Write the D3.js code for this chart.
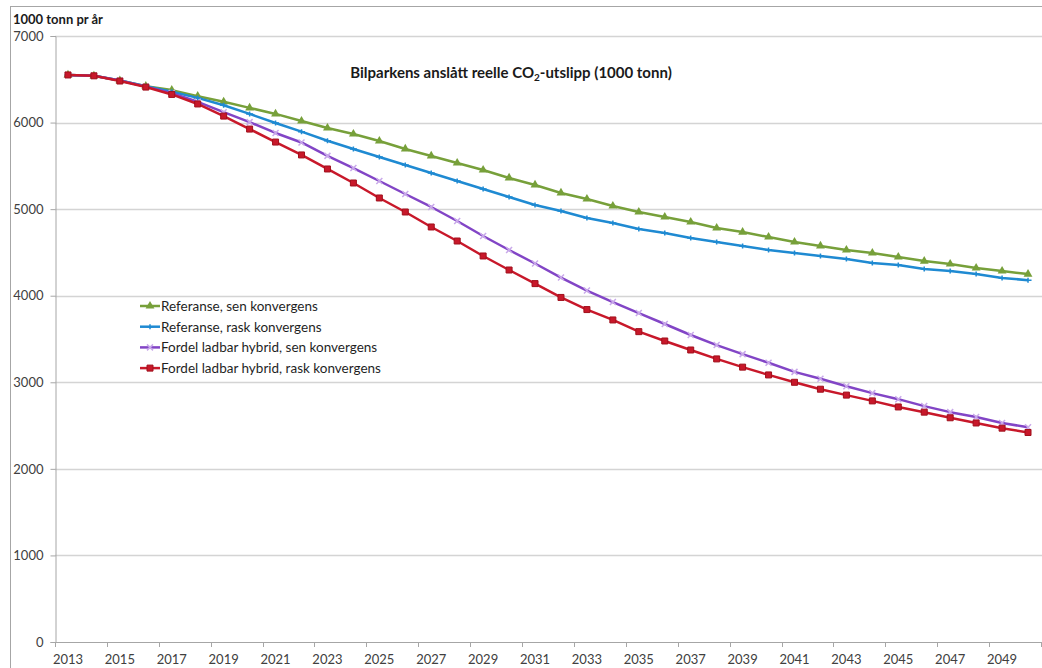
<!DOCTYPE html>
<html>
<head>
<meta charset="utf-8">
<script src="https://cdn.jsdelivr.net/npm/d3@7"></script>
<style>
  body{margin:0;background:#fff;}
  svg{display:block;font-family:Lato,"Liberation Sans",sans-serif;}
</style>
</head>
<body>
<svg id="chart" width="1042" height="668"></svg>
<script>
const years=d3.range(2013,2051);
const yTicks=[0,1000,2000,3000,4000,5000,6000,7000];

const refSen=[6550,6540,6485,6420,6375,6305,6240,6170,6100,6018,
  5937,5868,5787,5695,5614,5533,5452,5360,5279,5187,
  5117,5036,4967,4909,4851,4782,4735,4678,4620,4575,
  4528,4493,4447,4400,4366,4320,4285,4250];
const refRask=[6550,6540,6485,6420,6355,6285,6200,6100,5995,5895,
  5790,5695,5602,5510,5418,5325,5233,5140,5048,4979,
  4898,4840,4771,4725,4667,4620,4575,4528,4493,4460,
  4424,4378,4355,4309,4285,4250,4205,4180];
const hybSen=[6550,6540,6485,6415,6340,6240,6120,6005,5880,5770,
  5615,5475,5325,5175,5025,4863,4690,4528,4372,4210,
  4060,3927,3800,3673,3546,3430,3325,3225,3120,3040,
  2955,2875,2805,2725,2655,2600,2530,2480];
const hybRask=[6550,6540,6480,6410,6325,6215,6075,5925,5775,5626,
  5464,5302,5129,4967,4794,4632,4459,4297,4140,3980,
  3840,3720,3585,3477,3373,3270,3175,3085,3000,2920,
  2852,2785,2715,2655,2590,2530,2470,2420];

const series=[
  {name:"Referanse, sen konvergens",values:refSen,color:"#77a03a",marker:"triangle"},
  {name:"Referanse, rask konvergens",values:refRask,color:"#1f8ad2",marker:"plus"},
  {name:"Fordel ladbar hybrid, sen konvergens",values:hybSen,color:"#8245c6",marker:"cross"},
  {name:"Fordel ladbar hybrid, rask konvergens",values:hybRask,color:"#c8182a",marker:"square"}
];

const svg=d3.select("#chart");
const plotL=55,plotR=1041,plotT=36,plotB=642;

// outer frame
svg.append("rect").attr("x",10.5).attr("y",6.5).attr("width",1100).attr("height",700)
  .attr("fill","none").attr("stroke","#a6a6a6").attr("stroke-width",1);

const x=d3.scaleBand().domain(years).range([plotL,plotR]).padding(0);
const cx=d=>x(d)+x.bandwidth()/2;
const y=d3.scaleLinear().domain([0,7000]).range([plotB,plotT]);

// grid
svg.append("g").selectAll("line").data(yTicks.filter(d=>d>0)).join("line")
  .attr("x1",plotL).attr("x2",plotR+2)
  .attr("y1",d=>Math.round(y(d))+0.5).attr("y2",d=>Math.round(y(d))+0.5)
  .attr("stroke","#d4d4d4").attr("stroke-width",1.5);

// y axis
const yAxis=svg.append("g").attr("transform",`translate(${plotL+0.5},0)`)
  .call(d3.axisLeft(y).tickValues(yTicks).tickSize(5).tickPadding(7).tickFormat(d3.format("d")));
yAxis.select(".domain").attr("stroke","#a6a6a6");
yAxis.selectAll(".tick line").attr("stroke","#a6a6a6");
yAxis.selectAll("text").attr("font-size",13).attr("fill","#404040").attr("font-family","Lato,sans-serif");

// x axis
const xg=svg.append("g");
xg.append("line").attr("x1",plotL).attr("x2",plotR+2).attr("y1",plotB+0.5).attr("y2",plotB+0.5)
  .attr("stroke","#a6a6a6");
const tickPos=years.filter((d,i)=>i%2===0).map(d=>x(d)).concat([plotR]);
xg.selectAll("line.t").data(tickPos).join("line").attr("class","t")
  .attr("x1",d=>Math.round(d)+0.5).attr("x2",d=>Math.round(d)+0.5)
  .attr("y1",plotB).attr("y2",plotB+5).attr("stroke","#a6a6a6");
xg.selectAll("text").data(years.filter((d,i)=>i%2===0)).join("text")
  .attr("x",d=>cx(d)).attr("y",plotB+22).attr("text-anchor","middle")
  .attr("font-size",13).attr("fill","#404040").text(d=>d);

// lines
const line=d3.line().x((d,i)=>cx(years[i])).y(d=>y(d));
const markerPath={
  triangle:d3.symbol(d3.symbolTriangle,34)(),
  square:d3.symbol(d3.symbolSquare,36)(),
  plus:"M-3.5,0H3.5M0,-2.5V2.5",
  cross:"M-3,-3L3,3M-3,3L3,-3"
};
function drawMarker(sel,s){
  if(s.marker==="triangle"||s.marker==="square"){
    sel.append("path").attr("d",markerPath[s.marker]).attr("fill",s.color)
      .attr("stroke",s.marker==="square"?"#a0101c":"none").attr("stroke-width",1);
  } else {
    sel.append("path").attr("d",markerPath[s.marker]).attr("fill","none")
      .attr("stroke",s.marker==="cross"?"#c9a9ea":s.color).attr("stroke-width",1.5);
  }
}
series.forEach(s=>{
  svg.append("path").datum(s.values).attr("d",line).attr("fill","none")
    .attr("stroke",s.color).attr("stroke-width",2.5).attr("stroke-linejoin","round");
  svg.append("g").selectAll("g").data(s.values).join("g")
    .attr("transform",(d,i)=>`translate(${cx(years[i])},${y(d)})`)
    .each(function(){drawMarker(d3.select(this),s);});
});

// legend
const lg=svg.append("g").attr("transform","translate(140,306)");
series.forEach((s,i)=>{
  const g=lg.append("g").attr("transform",`translate(0,${i*20.7})`);
  g.append("line").attr("x1",0).attr("x2",20).attr("y1",0).attr("y2",0)
    .attr("stroke",s.color).attr("stroke-width",2.5);
  g.append("g").attr("transform","translate(10,0)").call(sel=>drawMarker(sel,s));
  g.append("text").attr("x",21).attr("y",4.8).attr("font-size",13.5).attr("fill","#1f1f1f").text(s.name);
});

// title
const t=svg.append("text").attr("x",511).attr("y",78).attr("text-anchor","middle")
  .attr("font-size",15).attr("font-weight","bold").attr("fill","#1a1a1a");
t.append("tspan").text("Bilparkens anslått reelle CO");
t.append("tspan").attr("font-size",10).attr("dy",3).text("2");
t.append("tspan").attr("dy",-3).text("-utslipp (1000 tonn)");

// y label
svg.append("text").attr("x",13).attr("y",24).attr("font-size",13).attr("font-weight","bold")
  .attr("fill","#1a1a1a").text("1000 tonn pr år");
</script>
</body>
</html>
